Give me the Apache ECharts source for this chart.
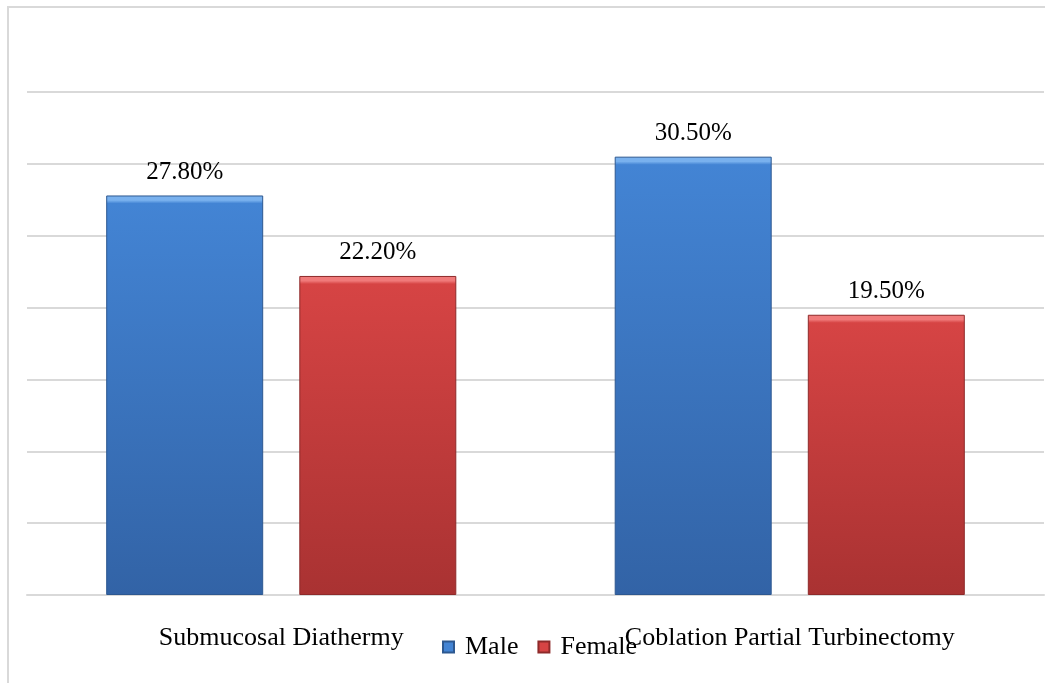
<!DOCTYPE html>
<html>
<head>
<meta charset="utf-8">
<script src="https://cdn.jsdelivr.net/npm/echarts@6/dist/echarts.min.js"></script>
<style>
  html, body { margin: 0; padding: 0; background: #ffffff; }
  #chart { width: 1048px; height: 683px; }
</style>
</head>
<body>
<div id="chart"></div>
<script>
// Procedure groups and share of patients by sex (%)
const categories = ['Submucosal Diathermy', 'Coblation Partial Turbinectomy'];
const maleValues = [27.8, 30.5];
const femaleValues = [22.2, 19.5];
const seriesNames = ['Male', 'Female'];

// Axis range
const yMax = 35;
const yStep = 5;

// Bevelled bar look: light top edge, body shading darker towards the base
function bevel(light, top, bottom, value) {
  const px = value * 14.35;          // approximate bar height in pixels
  const edge = Math.min(0.2, 8 / px);
  return new echarts.graphic.LinearGradient(0, 0, 0, 1, [
    { offset: 0, color: light },
    { offset: edge * 0.6, color: light },
    { offset: edge, color: top },
    { offset: 1, color: bottom }
  ]);
}

const maleStyle = { light: '#79B1EE', top: '#4384D4', bottom: '#3263A6', border: '#2D5890' };
const femaleStyle = { light: '#F07A7A', top: '#D64444', bottom: '#A93232', border: '#8E2A2A' };

function buildData(values, st) {
  return values.map(v => ({
    value: v,
    itemStyle: { color: bevel(st.light, st.top, st.bottom, v) }
  }));
}

const labelStyle = {
  show: true,
  position: 'top',
  distance: 11,
  fontFamily: 'Liberation Serif',
  fontSize: 25,
  color: '#000000',
  formatter: p => p.value.toFixed(2) + '%'
};

const chart = echarts.init(document.getElementById('chart'), null, { renderer: 'canvas' });

chart.setOption({
  animation: false,
  backgroundColor: '#ffffff',
  graphic: [{
    type: 'polyline',
    shape: { points: [[8, 683], [8, 7], [1045, 7]] },
    style: { stroke: '#D9D9D9', lineWidth: 2, fill: null },
    silent: true
  }],
  grid: { left: 27, right: 4, top: 92, bottom: 88, containLabel: false },
  legend: {
    data: seriesNames,
    left: 442,
    top: 634,
    padding: 0,
    icon: 'rect',
    itemWidth: 11,
    itemHeight: 11,
    itemGap: 19,
    textStyle: { fontFamily: 'Liberation Serif', fontSize: 26, color: '#000000', padding: [13, 0, 0, 6] }
  },
  xAxis: {
    type: 'category',
    data: categories,
    axisLine: { show: true, lineStyle: { color: '#D9D9D9', width: 2 } },
    axisTick: { show: false },
    axisLabel: {
      margin: 30,
      fontFamily: 'Liberation Serif',
      fontSize: 26,
      color: '#000000'
    }
  },
  yAxis: {
    type: 'value',
    min: 0,
    max: yMax,
    interval: yStep,
    axisLine: { show: false },
    axisTick: { show: false },
    axisLabel: { show: false },
    splitLine: { lineStyle: { color: '#D9D9D9', width: 2 } }
  },
  series: [
    {
      name: seriesNames[0],
      type: 'bar',
      barWidth: 157,
      barGap: '23%',
      data: buildData(maleValues, maleStyle),
      itemStyle: { color: maleStyle.top, borderColor: maleStyle.border, borderWidth: 1 },
      label: labelStyle
    },
    {
      name: seriesNames[1],
      type: 'bar',
      barWidth: 157,
      barGap: '23%',
      data: buildData(femaleValues, femaleStyle),
      itemStyle: { color: femaleStyle.top, borderColor: femaleStyle.border, borderWidth: 1 },
      label: labelStyle
    }
  ]
});
</script>
</body>
</html>
